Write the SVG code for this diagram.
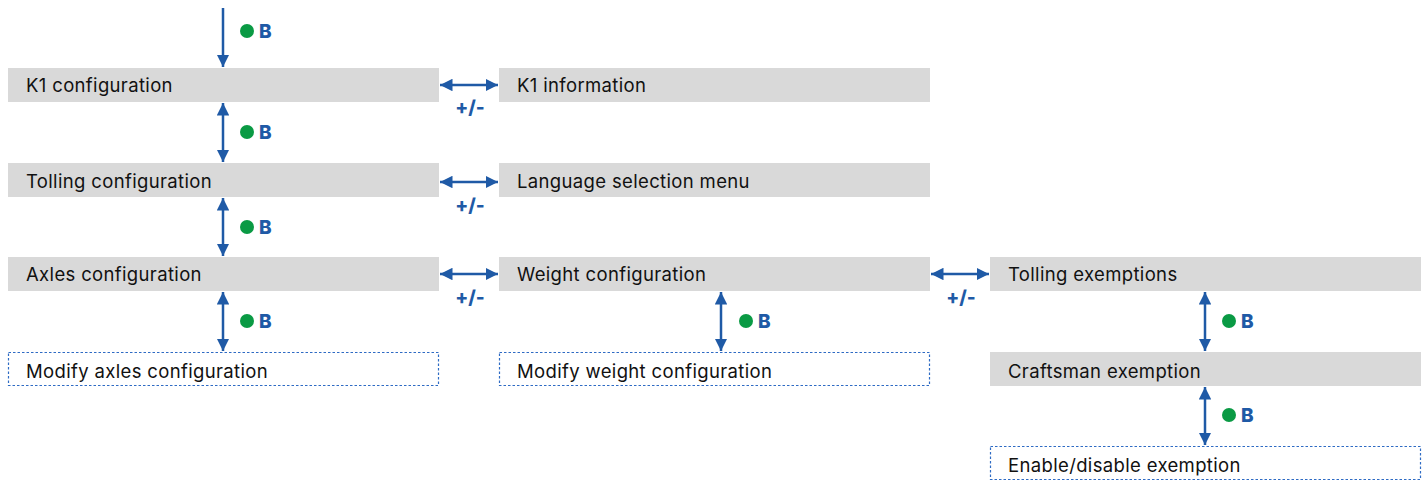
<svg xmlns="http://www.w3.org/2000/svg" width="1426" height="481" viewBox="0 0 1426 481">
<defs>
<style>
.box{fill:#d9d9d9}
.dbox{fill:#fff;stroke:#2e6bc4;stroke-width:1.2;stroke-dasharray:2.5 2}
.t{font-family:Inter,"Open Sans",sans-serif;font-size:18.5px;letter-spacing:0.35px;fill:#111}
.ln{stroke:#1f5aa6;stroke-width:2.5;fill:none}
.b{font-family:Inter,"Open Sans",sans-serif;font-size:19px;font-weight:800;fill:#1f5aa6}
.pm{font-family:Inter,"Open Sans",sans-serif;font-size:19px;font-weight:800;fill:#1f5aa6;text-anchor:middle}
.dot{fill:#0a9a44}
</style>
<marker id="ah" viewBox="0 0 10 10" refX="10" refY="5" markerWidth="5" markerHeight="5" orient="auto-start-reverse" markerUnits="strokeWidth">
<path d="M0,0 L10,5 L0,10 z" fill="#1f5aa6"/>
</marker>
</defs>
<g id="n-k1conf"><rect class="box" x="8" y="68" width="431" height="34"/><text class="t" x="26" y="92">K1 configuration</text></g>
<g id="n-k1info"><rect class="box" x="499" y="68" width="431" height="34"/><text class="t" x="517" y="92">K1 information</text></g>
<g id="n-tollconf"><rect class="box" x="8" y="163" width="431" height="34"/><text class="t" x="26" y="188">Tolling configuration</text></g>
<g id="n-lang"><rect class="box" x="499" y="163" width="431" height="34"/><text class="t" x="517" y="188">Language selection menu</text></g>
<g id="n-axles"><rect class="box" x="8" y="257" width="431" height="34"/><text class="t" x="26" y="281">Axles configuration</text></g>
<g id="n-weight"><rect class="box" x="499" y="257" width="431" height="34"/><text class="t" x="517" y="281">Weight configuration</text></g>
<g id="n-tollex"><rect class="box" x="990" y="257" width="431" height="34"/><text class="t" x="1008" y="281">Tolling exemptions</text></g>
<g id="n-modaxles"><rect class="dbox" x="8.5" y="352.5" width="430" height="33"/><text class="t" x="26" y="378">Modify axles configuration</text></g>
<g id="n-modweight"><rect class="dbox" x="499.5" y="352.5" width="430" height="33"/><text class="t" x="517" y="378">Modify weight configuration</text></g>
<g id="n-crafts"><rect class="box" x="990" y="352" width="431" height="34"/><text class="t" x="1008" y="378">Craftsman exemption</text></g>
<g id="n-enable"><rect class="dbox" x="990.5" y="446.5" width="430" height="33"/><text class="t" x="1008" y="472">Enable/disable exemption</text></g>
<g id="connectors">
<line class="ln" x1="223" y1="8" x2="223" y2="67" marker-end="url(#ah)"/>
<line class="ln" x1="223" y1="103" x2="223" y2="162" marker-start="url(#ah)" marker-end="url(#ah)"/>
<line class="ln" x1="223" y1="198" x2="223" y2="256" marker-start="url(#ah)" marker-end="url(#ah)"/>
<line class="ln" x1="223" y1="292" x2="223" y2="351" marker-start="url(#ah)" marker-end="url(#ah)"/>
<line class="ln" x1="721" y1="292" x2="721" y2="351" marker-start="url(#ah)" marker-end="url(#ah)"/>
<line class="ln" x1="1205" y1="292" x2="1205" y2="351" marker-start="url(#ah)" marker-end="url(#ah)"/>
<line class="ln" x1="1205" y1="387" x2="1205" y2="445" marker-start="url(#ah)" marker-end="url(#ah)"/>
<line class="ln" x1="440" y1="85" x2="498" y2="85" marker-start="url(#ah)" marker-end="url(#ah)"/>
<line class="ln" x1="440" y1="182" x2="498" y2="182" marker-start="url(#ah)" marker-end="url(#ah)"/>
<line class="ln" x1="440" y1="274" x2="498" y2="274" marker-start="url(#ah)" marker-end="url(#ah)"/>
<line class="ln" x1="931" y1="274" x2="989" y2="274" marker-start="url(#ah)" marker-end="url(#ah)"/>
<circle class="dot" cx="247" cy="31" r="7"/><text class="b" x="259" y="38">B</text>
<circle class="dot" cx="247" cy="132" r="7"/><text class="b" x="259" y="139">B</text>
<circle class="dot" cx="247" cy="227" r="7"/><text class="b" x="259" y="234">B</text>
<circle class="dot" cx="247" cy="321" r="7"/><text class="b" x="259" y="328">B</text>
<circle class="dot" cx="746" cy="321" r="7"/><text class="b" x="758" y="328">B</text>
<circle class="dot" cx="1229" cy="321" r="7"/><text class="b" x="1241" y="328">B</text>
<circle class="dot" cx="1229" cy="415" r="7"/><text class="b" x="1241" y="422">B</text>
<text class="pm" x="470" y="114">+/-</text>
<text class="pm" x="470" y="212">+/-</text>
<text class="pm" x="470" y="304">+/-</text>
<text class="pm" x="961" y="304">+/-</text>
</g>
</svg>
